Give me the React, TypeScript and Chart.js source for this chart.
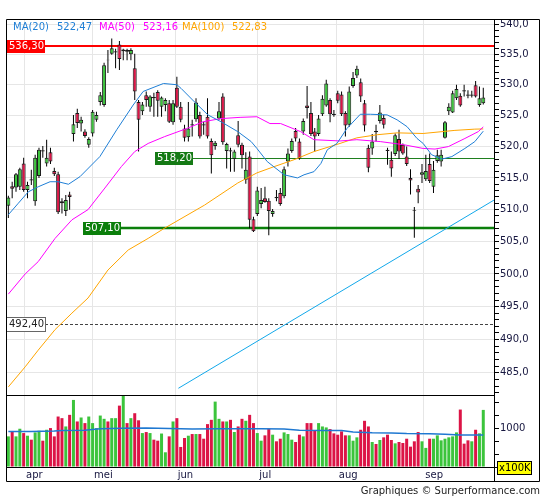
import React, { useEffect, useRef } from "react";
import { Chart, registerables } from "chart.js";

Chart.register(...registerables);

// ---------------- data ----------------
const opens = [
  510.6, 513.7, 513.5, 513.6, 517.3, 513.1, 514.8, 511.3, 515.3, 519.4,
  517.3, 519.1, 516.1, 515.6, 511.3, 509.8, 512.4, 522.0, 525.4, 523.7,
  522.4, 520.3, 522.1, 524.3, 527.2, 526.7, 534.1, 535.1, 535.3, 536.6,
  535.5, 535.7, 535.0, 532.7, 527.2, 525.7, 528.3, 526.4, 528.0, 528.8,
  526.4, 526.7, 527.0, 523.9, 529.5, 526.4, 522.9, 521.5, 523.6, 524.4,
  525.1, 523.6, 524.8, 520.9, 520.1, 524.5, 528.1, 519.3, 519.4, 518.0,
  521.8, 520.3, 514.7, 518.4, 508.5, 509.3, 510.9, 511.8, 511.4, 509.3,
  512.0, 512.6, 512.1, 517.6, 519.3, 522.5, 520.8, 522.4, 526.6, 525.4,
  522.4, 522.0, 525.2, 526.6, 527.5, 525.3, 528.6, 528.4, 525.4, 523.5,
  529.8, 531.5, 530.4, 527.0, 519.8, 519.7, 522.5, 524.1, 524.6, 519.5,
  517.9, 518.8, 521.2, 520.3, 518.4, 515.0, 509.9, 513.3, 515.5, 514.8,
  517.2, 513.6, 517.7, 517.6, 521.4, 525.7, 525.5, 527.8, 528.2, 529.1,
  528.4, 528.2, 529.9, 526.7, 527.0,
];
const highs = [
  512.2, 514.4, 515.8, 516.6, 518.2, 514.4, 516.3, 518.7, 519.8, 520.1,
  521.1, 519.8, 516.6, 516.0, 511.8, 512.3, 512.8, 525.1, 526.1, 524.8,
  522.8, 521.5, 525.9, 525.6, 528.8, 533.6, 535.7, 537.6, 535.9, 537.2,
  535.9, 535.9, 536.0, 535.1, 527.5, 527.2, 528.9, 528.3, 528.7, 529.1,
  528.1, 527.8, 527.5, 527.5, 531.3, 527.2, 523.5, 527.2, 524.3, 527.8,
  525.6, 524.0, 527.8, 521.3, 520.9, 527.2, 528.6, 520.6, 519.8, 519.5,
  524.1, 520.6, 519.1, 519.2, 508.9, 513.6, 513.4, 513.6, 511.8, 510.1,
  513.1, 513.4, 516.8, 519.7, 521.3, 523.0, 521.3, 524.5, 529.8, 527.2,
  523.0, 525.1, 528.3, 530.8, 527.8, 525.9, 529.0, 528.9, 525.7, 529.7,
  532.1, 533.1, 531.0, 527.5, 520.3, 522.0, 523.5, 526.7, 525.1, 519.8,
  519.2, 522.1, 522.7, 520.5, 520.0, 516.4, 510.4, 513.9, 517.2, 518.7,
  518.9, 517.7, 519.5, 519.5, 524.1, 527.0, 529.0, 530.0, 528.6, 530.0,
  529.1, 529.0, 530.6, 529.7, 529.5,
];
const lows = [
  508.7, 511.8, 512.8, 513.1, 512.8, 511.8, 513.9, 510.6, 515.0, 518.2,
  516.8, 517.2, 515.3, 509.3, 509.4, 509.0, 510.0, 520.8, 523.0, 522.4,
  521.4, 519.8, 521.6, 524.0, 526.6, 526.4, 531.9, 534.9, 532.7, 532.4,
  534.0, 534.0, 534.0, 527.5, 519.2, 525.1, 526.4, 525.6, 524.8, 524.8,
  524.8, 525.7, 523.8, 523.5, 526.2, 523.9, 520.8, 520.8, 521.6, 524.0,
  521.3, 521.9, 521.3, 515.7, 519.5, 524.3, 520.3, 516.5, 516.0, 516.0,
  519.9, 516.5, 514.1, 507.1, 506.5, 509.0, 510.2, 511.1, 506.0, 508.9,
  511.3, 510.6, 511.8, 516.8, 519.0, 520.8, 517.9, 521.9, 524.5, 521.7,
  519.2, 521.7, 524.9, 526.4, 523.9, 524.8, 527.0, 524.9, 521.6, 523.2,
  529.5, 531.1, 527.2, 522.4, 515.9, 518.7, 520.8, 523.7, 522.9, 517.1,
  515.2, 518.5, 518.0, 518.7, 516.9, 512.4, 505.6, 511.0, 514.2, 514.5,
  514.2, 512.6, 517.4, 516.8, 521.3, 525.1, 525.4, 527.5, 526.4, 528.1,
  527.8, 527.9, 527.9, 526.4, 526.8,
];
const closes = [
  511.9, 513.3, 515.6, 516.4, 513.1, 513.9, 514.6, 518.2, 519.5, 519.2,
  518.2, 517.6, 515.6, 509.6, 511.0, 511.5, 512.0, 523.6, 523.8, 524.3,
  521.7, 521.2, 525.6, 525.1, 528.3, 533.2, 534.0, 536.0, 535.5, 534.2,
  535.8, 535.4, 535.7, 528.9, 524.3, 526.8, 527.5, 528.1, 527.8, 527.4,
  527.9, 527.5, 524.0, 527.0, 526.4, 524.3, 521.4, 522.9, 523.4, 527.1,
  521.6, 523.4, 521.6, 518.6, 520.6, 525.7, 520.7, 520.4, 519.2, 519.2,
  520.3, 518.6, 516.3, 508.4, 506.6, 513.0, 511.5, 511.2, 509.8, 509.8,
  511.8, 510.9, 516.4, 518.9, 520.9, 521.3, 518.1, 524.1, 526.2, 522.0,
  521.6, 524.5, 527.7, 530.2, 525.2, 525.1, 527.4, 525.2, 523.4, 528.9,
  531.1, 532.6, 528.1, 523.4, 516.6, 520.8, 522.3, 525.5, 523.5, 519.3,
  516.5, 521.8, 519.2, 518.9, 517.2, 514.6, 509.8, 512.7, 515.9, 516.1,
  514.5, 516.3, 518.6, 518.7, 523.9, 526.4, 528.6, 529.3, 526.6, 528.9,
  528.2, 528.4, 528.1, 527.8, 527.9,
];
// volume in units of 100K
const volumes = [
  787, 915, 787, 983, 872, 804, 702, 889, 932, 676,
  957, 1000, 787, 1297, 1255, 1042, 1340, 1723, 1170, 1272,
  1128, 1297, 1128, 1000, 1322, 1238, 1170, 1255, 1255, 1577,
  1833, 1128, 1255, 1382, 1200, 872, 898, 872, 702, 676,
  860, 378, 787, 1170, 1255, 515, 745, 804, 847, 847,
  847, 727, 1102, 1212, 1680, 1238, 1170, 1170, 1212, 900,
  1042, 1238, 1187, 1340, 1128, 872, 676, 813, 983, 830,
  660, 727, 889, 847, 702, 643, 830, 787, 1128, 1128,
  932, 1128, 1042, 1017, 974, 864, 830, 915, 813, 813,
  676, 762, 957, 1187, 1042, 643, 591, 694, 762, 830,
  694, 608, 643, 617, 727, 523, 660, 898, 660, 491,
  727, 727, 813, 685, 727, 762, 787, 889, 1476, 600,
  685, 660, 957, 864, 1467,
];

const ma20X = [0, 2.6, 5.2, 7.8, 10.9, 13, 15.7, 18.7, 23.9, 28.3, 32.6, 35.2, 40.5, 44, 45.1, 48.6, 52.1, 55.5, 59.9, 63.4, 64.9, 67.6, 72, 75.5, 77.2, 79.8, 81.6, 83.3, 85.8, 88.4, 91.9, 94.5, 98.9, 101.5, 104.1, 106.7, 108.3, 110.5, 113.2, 115.8, 119.2, 121.8, 124];
const ma20Y = [509.2, 511.0, 512.8, 513.6, 514.4, 514.4, 514.0, 515.2, 518.4, 522.7, 526.7, 528.9, 530.2, 530.0, 529.4, 527.2, 525.1, 524.0, 522.4, 520.8, 519.7, 517.6, 515.5, 515.0, 515.5, 516.0, 517.3, 519.5, 520.5, 522.9, 525.2, 525.2, 525.1, 524.3, 523.2, 521.3, 520.5, 518.7, 518.0, 518.4, 519.7, 520.8, 522.47];
const ma50X = [0, 4.4, 7.8, 12.2, 16.6, 20.8, 25.2, 29.5, 33, 36.5, 40.8, 46.6, 50.9, 55.5, 60.5, 64.9, 68.3, 71.1, 76.3, 79.8, 86.6, 91, 97.1, 103.2, 108.3, 111.4, 114.9, 119.2, 122.7, 124];
const ma50Y = [496.9, 500.0, 501.9, 505.5, 508.4, 510.0, 513.4, 516.8, 519.2, 520.5, 521.6, 522.9, 524.0, 524.5, 524.7, 524.8, 523.7, 523.7, 522.4, 521.1, 520.9, 521.1, 520.8, 520.3, 519.7, 519.6, 520.0, 521.3, 522.4, 523.16];
const ma100X = [0, 4.4, 7.8, 12.2, 16.6, 20.8, 26, 31.3, 36.5, 40.8, 51.2, 59.9, 64.9, 69.4, 74.6, 79.8, 86.6, 91, 96.3, 101.5, 108.3, 116.6, 121.8, 124];
const ma100Y = [482.9, 485.9, 488.4, 491.5, 494.0, 496.3, 500.6, 503.7, 505.5, 507.1, 510.7, 514.2, 515.8, 516.8, 517.9, 519.2, 520.5, 521.4, 521.9, 522.2, 522.1, 522.6, 522.8, 522.83];
const volMaX = [0, 6, 12, 14, 20, 24, 30, 36, 42, 48, 55, 62, 66, 72, 76, 82, 87, 90, 95, 100, 104, 110, 114, 118, 124];
const volMaY = [914, 914, 925, 940, 945, 985, 995, 1000, 990, 975, 980, 985, 985, 975, 945, 935, 935, 900, 880, 875, 860, 855, 840, 825, 820];
const trendX = [44.4, 126.8];
const trendY = [482.7, 511.5];

const monthPos = [4.1, 21.85, 43.7, 65.0, 85.75, 108.35];
const monthLabels = ["apr", "mei", "jun", "jul", "aug", "sep"];

const levelValues = [536.3, 518.2, 507.1, 492.4];
const levelStartIdx = [-0.35, 38.3, 19.5, -0.35];

const maNames = ["MA(20)", "MA(50)", "MA(100)"];

// ---------------- styles ----------------
const FONT = '"DejaVu Sans", Verdana, sans-serif';
const TEXT = "#16163f";
const GREEN = "#3cc43c";
const RED = "#dc1446";
const MA_COLORS = ["#1f7fd6", "#ff00ff", "#ffa500"];
const levelStyle = [
  { color: "#ff0000", width: 2, dash: [] as number[], box: "#ff0000", text: "#ffffff", border: "" },
  { color: "#1f7f1f", width: 1, dash: [] as number[], box: "#157a15", text: "#ffffff", border: "" },
  { color: "#0b7f0b", width: 2.5, dash: [] as number[], box: "#0b7f0b", text: "#ffffff", border: "" },
  { color: "#444444", width: 1, dash: [3, 2], box: "#ffffff", text: "#222222", border: "#666666" },
];
const legendX = [13, 57, 99, 143, 182, 232];
const X_MIN = -0.35;
const X_MAX = 126.8;

const fmt = (v: number, d: number) => v.toFixed(d).replace(".", ",");
const pts = (xs: number[], ys: number[]) => xs.map((x, i) => ({ x, y: ys[i] }));

const deco = {
  id: "deco",
  beforeDatasetsDraw(chart: any) {
    const { ctx, chartArea: ca, scales } = chart;
    const ys = scales.y;
    const xs = scales.x;
    ctx.save();
    ctx.beginPath();
    ctx.rect(ca.left, ys.top, ca.right - ca.left, ys.bottom - ys.top);
    ctx.clip();
    ctx.font = `10px ${FONT}`;
    levelValues.forEach((v, k) => {
      const st = levelStyle[k];
      const py = Math.round(ys.getPixelForValue(v));
      const bx = Math.max(ca.left, Math.round(xs.getPixelForValue(levelStartIdx[k])));
      const bw = Math.round(ctx.measureText(fmt(v, 2)).width) + 3;
      const off = st.width === 1 ? 0.5 : 0;
      ctx.strokeStyle = st.color;
      ctx.lineWidth = st.width;
      ctx.setLineDash(st.dash);
      ctx.beginPath();
      ctx.moveTo(bx + bw, py + off);
      ctx.lineTo(ca.right, py + off);
      ctx.stroke();
    });
    ctx.restore();
  },
  afterDatasetsDraw(chart: any) {
    const { ctx, chartArea: ca, scales } = chart;
    const ys = scales.y;
    const xs = scales.x;
    ctx.save();
    ctx.font = `10px ${FONT}`;
    ctx.textBaseline = "middle";
    ctx.textAlign = "left";
    levelValues.forEach((v, k) => {
      const st = levelStyle[k];
      const label = fmt(v, 2);
      const py = Math.round(ys.getPixelForValue(v));
      const bx = Math.max(ca.left, Math.round(xs.getPixelForValue(levelStartIdx[k])));
      const bw = Math.round(ctx.measureText(label).width) + 3;
      ctx.fillStyle = st.box;
      ctx.fillRect(bx, py - 6, bw, 13);
      if (st.border) {
        ctx.strokeStyle = st.border;
        ctx.lineWidth = 1;
        ctx.setLineDash([]);
        ctx.strokeRect(bx - 0.5, py - 6.5, bw + 1, 14);
      }
      ctx.fillStyle = st.text;
      ctx.fillText(label, bx + 2, py + 0.5);
    });
    // MA legend
    const lasts = [ma20Y[ma20Y.length - 1], ma50Y[ma50Y.length - 1], ma100Y[ma100Y.length - 1]];
    maNames.forEach((name, k) => {
      ctx.fillStyle = MA_COLORS[k];
      ctx.fillText(name, legendX[k * 2], 27);
      ctx.fillText(fmt(lasts[k], 2), legendX[k * 2 + 1], 27);
    });
    ctx.restore();
  },
  afterDraw(chart: any) {
    const { ctx, chartArea: ca, scales } = chart;
    const yv = scales.yVol;
    ctx.save();
    ctx.strokeStyle = "#000";
    ctx.lineWidth = 1;
    ctx.setLineDash([]);
    const L = ca.left - 0.5;
    const T = ca.top - 0.5;
    const R = 539.5;
    const B = scales.xl.bottom - 0.5;
    const AX = ca.right + 0.5;
    ctx.beginPath();
    ctx.rect(L, T, R - L, B - T);
    ctx.moveTo(AX, T);
    ctx.lineTo(AX, B);
    ctx.moveTo(L, Math.round(yv.top) + 0.5);
    ctx.lineTo(AX, Math.round(yv.top) + 0.5);
    ctx.moveTo(L, Math.round(ca.bottom) + 0.5);
    ctx.lineTo(AX, Math.round(ca.bottom) + 0.5);
    ctx.stroke();
    // unit box
    ctx.font = `10px ${FONT}`;
    const unit = "x100K";
    const uw = Math.round(ctx.measureText(unit).width) + 3;
    const ux = ca.right + 3;
    const uy = Math.round(yv.bottom) - 6;
    ctx.fillStyle = "#ffff00";
    ctx.fillRect(ux, uy, uw, 14);
    ctx.strokeRect(ux + 0.5, uy + 0.5, uw - 1, 13);
    ctx.fillStyle = "#000";
    ctx.textBaseline = "middle";
    ctx.textAlign = "left";
    ctx.fillText(unit, ux + 2, uy + 7.5);
    // credit
    ctx.fillStyle = "#222";
    ctx.textAlign = "right";
    ctx.fillText("Graphiques \u00a9 Surperformance.com", 540, 491);
    ctx.restore();
  },
};

export default function App() {
  const ref = useRef<HTMLCanvasElement>(null);

  useEffect(() => {
    const canvas = ref.current;
    if (!canvas) return;
    Chart.defaults.font.family = FONT;
    const idx = closes.map((_, i) => i);
    const up = idx.map((i) => closes[i] >= opens[i]);
    const colors = up.map((u) => (u ? GREEN : RED));

    const chart = new Chart(canvas, {
      type: "bar",
      data: {
        datasets: [
          { type: "line", data: pts(ma20X, ma20Y), yAxisID: "y", borderColor: MA_COLORS[0], borderWidth: 1, pointRadius: 0, tension: 0, order: 0 },
          { type: "line", data: pts(ma50X, ma50Y), yAxisID: "y", borderColor: MA_COLORS[1], borderWidth: 1, pointRadius: 0, tension: 0, order: 0 },
          { type: "line", data: pts(ma100X, ma100Y), yAxisID: "y", borderColor: MA_COLORS[2], borderWidth: 1, pointRadius: 0, tension: 0, order: 0 },
          { type: "line", data: pts(trendX, trendY), yAxisID: "y", borderColor: "#12a8ea", borderWidth: 1, pointRadius: 0, tension: 0, order: 0 },
          { type: "line", data: pts(volMaX, volMaY), yAxisID: "yVol", borderColor: "#1f78d1", borderWidth: 1.5, pointRadius: 0, tension: 0, order: 0 },
          {
            type: "bar",
            data: idx.map((i) => ({ x: i, y: [opens[i], closes[i]] })),
            yAxisID: "y",
            backgroundColor: colors,
            borderColor: "#1b1b1b",
            borderWidth: 1,
            borderSkipped: false,
            barThickness: 4,
            grouped: false,
            inflateAmount: 0,
            order: 1,
          },
          {
            type: "bar",
            data: idx.map((i) => ({ x: i, y: [lows[i], highs[i]] })),
            yAxisID: "y",
            backgroundColor: "#000",
            barThickness: 1,
            grouped: false,
            inflateAmount: 0,
            order: 2,
          },
          {
            type: "bar",
            data: idx.map((i) => ({ x: i, y: volumes[i] })),
            yAxisID: "yVol",
            backgroundColor: colors,
            barThickness: 3,
            grouped: false,
            inflateAmount: 0,
            order: 3,
          },
        ] as any,
      },
      options: {
        responsive: false,
        animation: false,
        events: [],
        layout: { padding: { left: 7, top: 20, right: 5, bottom: 18 } },
        plugins: { legend: { display: false }, tooltip: { enabled: false }, title: { display: false } },
        scales: {
          x: {
            type: "linear",
            min: X_MIN,
            max: X_MAX,
            offset: false,
            position: "bottom",
            grid: { color: "#e6e6e6", lineWidth: 1, drawTicks: false, offset: false },
            border: { display: false },
            ticks: { display: false },
            afterBuildTicks: (s: any) => {
              s.ticks = monthPos.map((v) => ({ value: v }));
            },
            afterFit: (s: any) => {
              s.height = 0;
            },
          },
          xl: {
            type: "linear",
            min: X_MIN,
            max: X_MAX,
            offset: false,
            position: "bottom",
            grid: { display: false, drawTicks: false, offset: false },
            border: { display: false },
            ticks: {
              autoSkip: false,
              maxRotation: 0,
              align: "start",
              padding: 2,
              color: TEXT,
              font: { family: FONT, size: 10 },
              callback: (_v: any, i: number) => "\u2009" + monthLabels[i],
            },
            afterBuildTicks: (s: any) => {
              s.ticks = monthPos.map((v) => ({ value: v }));
            },
            afterFit: (s: any) => {
              s.height = 15;
            },
          },
          y: {
            type: "logarithmic",
            position: "right",
            min: 481.7,
            max: 540.67,
            stack: "panes",
            stackWeight: 375,
            afterBuildTicks: (s: any) => {
              const t: any[] = [];
              for (let v = 482; v <= 540; v++) t.push({ value: v });
              s.ticks = t;
            },
            ticks: {
              autoSkip: false,
              padding: 1,
              color: TEXT,
              font: { family: FONT, size: 10 },
              callback: (v: any) => (Math.round(v) % 5 === 0 ? fmt(Number(v), 1) : ""),
            },
            grid: {
              color: (c: any) => (c.tick && Math.round(c.tick.value) % 5 === 0 ? "#e6e6e6" : "rgba(0,0,0,0)"),
              tickColor: "#000",
              tickLength: 5,
              lineWidth: 1,
            },
            border: { display: false },
            afterFit: (s: any) => {
              s.width = 46;
            },
          },
          yVol: {
            type: "linear",
            position: "right",
            min: 0,
            max: 1850,
            stack: "panes",
            stackWeight: 72,
            afterBuildTicks: (s: any) => {
              s.ticks = [0, 1, 2, 3, 4, 5].map((k) => ({ value: (k * 1000) / 3 }));
            },
            ticks: {
              autoSkip: false,
              padding: 1,
              color: TEXT,
              font: { family: FONT, size: 10 },
              callback: (v: any) => (Math.abs(Number(v) - 1000) < 1 ? "1000" : ""),
            },
            grid: { drawOnChartArea: false, tickColor: "#000", tickLength: 5 },
            border: { display: false },
            afterFit: (s: any) => {
              s.width = 46;
            },
          },
        } as any,
      },
      plugins: [deco],
    } as any);

    return () => chart.destroy();
  }, []);

  return (
    <div style={{ position: "absolute", left: 0, top: 0, width: 545, height: 500, background: "#fff" }}>
      <canvas ref={ref} width={545} height={500} style={{ width: 545, height: 500, display: "block" }} />
    </div>
  );
}
